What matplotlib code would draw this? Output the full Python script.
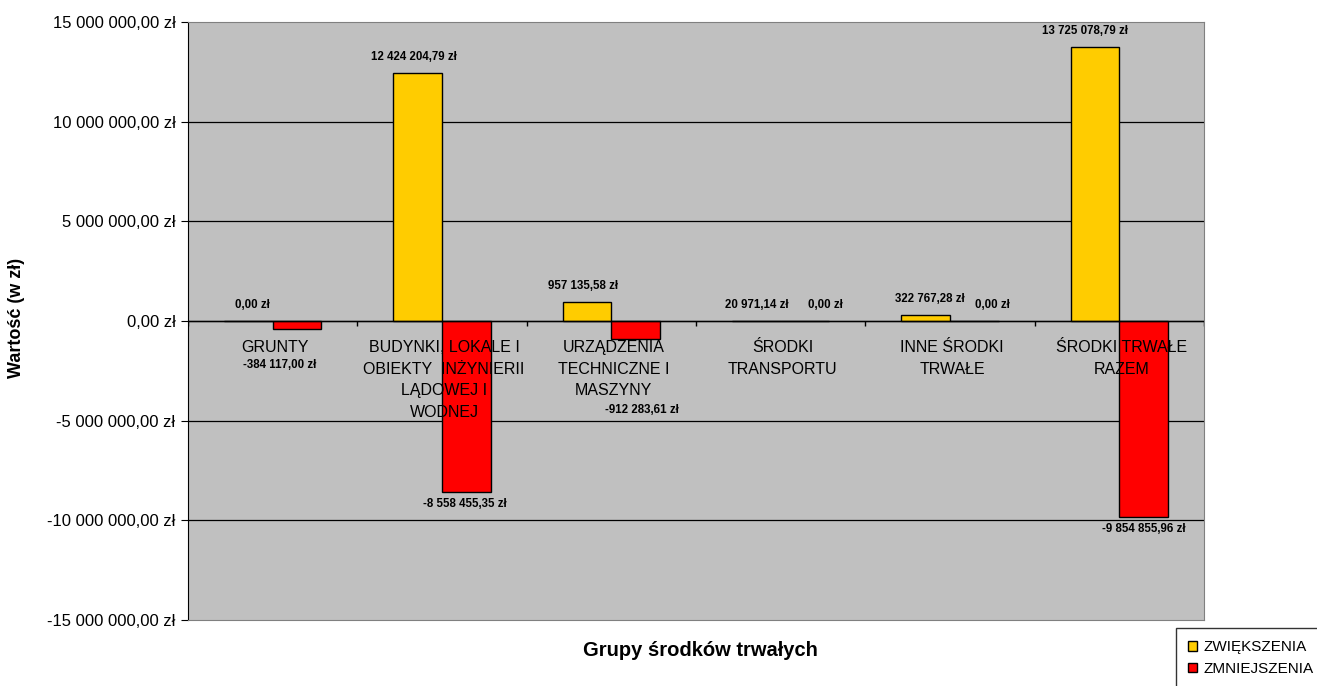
import matplotlib
matplotlib.use('Agg')
import matplotlib.pyplot as plt
from matplotlib.patches import Patch
import numpy as np

plt.rcParams['font.family'] = ['Liberation Sans', 'DejaVu Sans']

categories = ['GRUNTY',
              'BUDYNKI, LOKALE I\nOBIEKTY  INŻYNIERII\nLĄDOWEJ I\nWODNEJ',
              'URZĄDZENIA\nTECHNICZNE I\nMASZYNY',
              'ŚRODKI\nTRANSPORTU',
              'INNE ŚRODKI\nTRWAŁE',
              'ŚRODKI TRWAŁE\nRAZEM']
zwiekszenia = [0.00, 12424204.79, 957135.58, 20971.14, 322767.28, 13725078.79]
zmniejszenia = [-384117.00, -8558455.35, -912283.61, 0.00, 0.00, -9854855.96]
series_names = ['ZWIĘKSZENIA', 'ZMNIEJSZENIA']
y_ticks = [-15e6, -10e6, -5e6, 0, 5e6, 10e6, 15e6]

# label nudges in pixels (Excel moved some labels around)
zw_nudge = [(4, 0), (-4, 0), (-4, 0), (0, 0), (4, 0), (-10, 0)]
zm_nudge = [(-17, -24), (-2, 0), (6, -59), (20, 0), (18, 0), (0, 0)]


def pln(v):
    return f"{v:,.2f}".replace(',', ' ').replace('.', ',') + ' zł'


fig = plt.figure(figsize=(13.17, 6.86), dpi=100)
ax = fig.add_axes([188 / 1317, 1 - 620 / 686, (1204 - 188) / 1317, (620 - 22) / 686])
ax.set_facecolor('#C0C0C0')

x = np.arange(len(categories))
w = 0.288
b1 = ax.bar(x - w / 2, zwiekszenia, w, color='#FFCC00', edgecolor='black', linewidth=1, zorder=3)
b2 = ax.bar(x + w / 2, zmniejszenia, w, color='#FF0000', edgecolor='black', linewidth=1, zorder=3)

ax.set_xlim(-0.5, len(categories) - 0.5)
ax.set_ylim(-15e6, 15e6)
ax.set_yticks(y_ticks)
ax.set_yticklabels([pln(t) for t in y_ticks], fontsize=12)
ax.set_xticks([])
ax.tick_params(axis='y', length=5, direction='out', pad=4)
for t in y_ticks[1:-1]:
    ax.axhline(t, color='black', linewidth=0.9, zorder=1)
ax.axhline(0, color='black', linewidth=1, zorder=4)
ax.vlines(np.arange(-0.5, len(categories)), -0.25e6, 0, color='black', linewidth=1, zorder=4)

for s in ['top', 'right', 'bottom']:
    ax.spines[s].set_color('#808080')
ax.spines['left'].set_color('black')

for i, (v, (dx, dy)) in enumerate(zip(zwiekszenia, zw_nudge)):
    ax.annotate(pln(v), (x[i] - w / 2, v), xytext=(dx, 16 + dy), textcoords='offset pixels',
                ha='center', va='center', fontsize=8.3, fontweight='bold', zorder=6)
for i, (v, (dx, dy)) in enumerate(zip(zmniejszenia, zm_nudge)):
    off = 16 if v >= 0 else -12
    ax.annotate(pln(v), (x[i] + w / 2, v), xytext=(dx, off + dy), textcoords='offset pixels',
                ha='center', va='center', fontsize=8.3, fontweight='bold', zorder=6)

for i, c in enumerate(categories):
    ax.annotate(c, (x[i], 0), xytext=(2, -19), textcoords='offset pixels',
                ha='center', va='top', fontsize=11.5, linespacing=1.55, zorder=5)

fig.text(17 / 1317, 1 - 318 / 686, 'Wartość (w zł)', rotation=90, ha='center', va='center',
         fontsize=13, fontweight='bold')
fig.text(700 / 1317, 1 - 651 / 686, 'Grupy środków trwałych', ha='center', va='center',
         fontsize=14.5, fontweight='bold')

handles = [Patch(facecolor='#FFCC00', edgecolor='black'), Patch(facecolor='#FF0000', edgecolor='black')]
leg = fig.legend(handles, series_names, loc='upper left', bbox_to_anchor=(1176 / 1317, 1 - 628 / 686),
                 fontsize=11, frameon=True, fancybox=False, handlelength=0.6, handleheight=0.6,
                 handletextpad=0.4, borderaxespad=0, labelspacing=0.5, borderpad=0.8)
leg.get_frame().set_edgecolor('black')
leg.get_frame().set_linewidth(1)

fig.savefig('out.png', dpi=100)
